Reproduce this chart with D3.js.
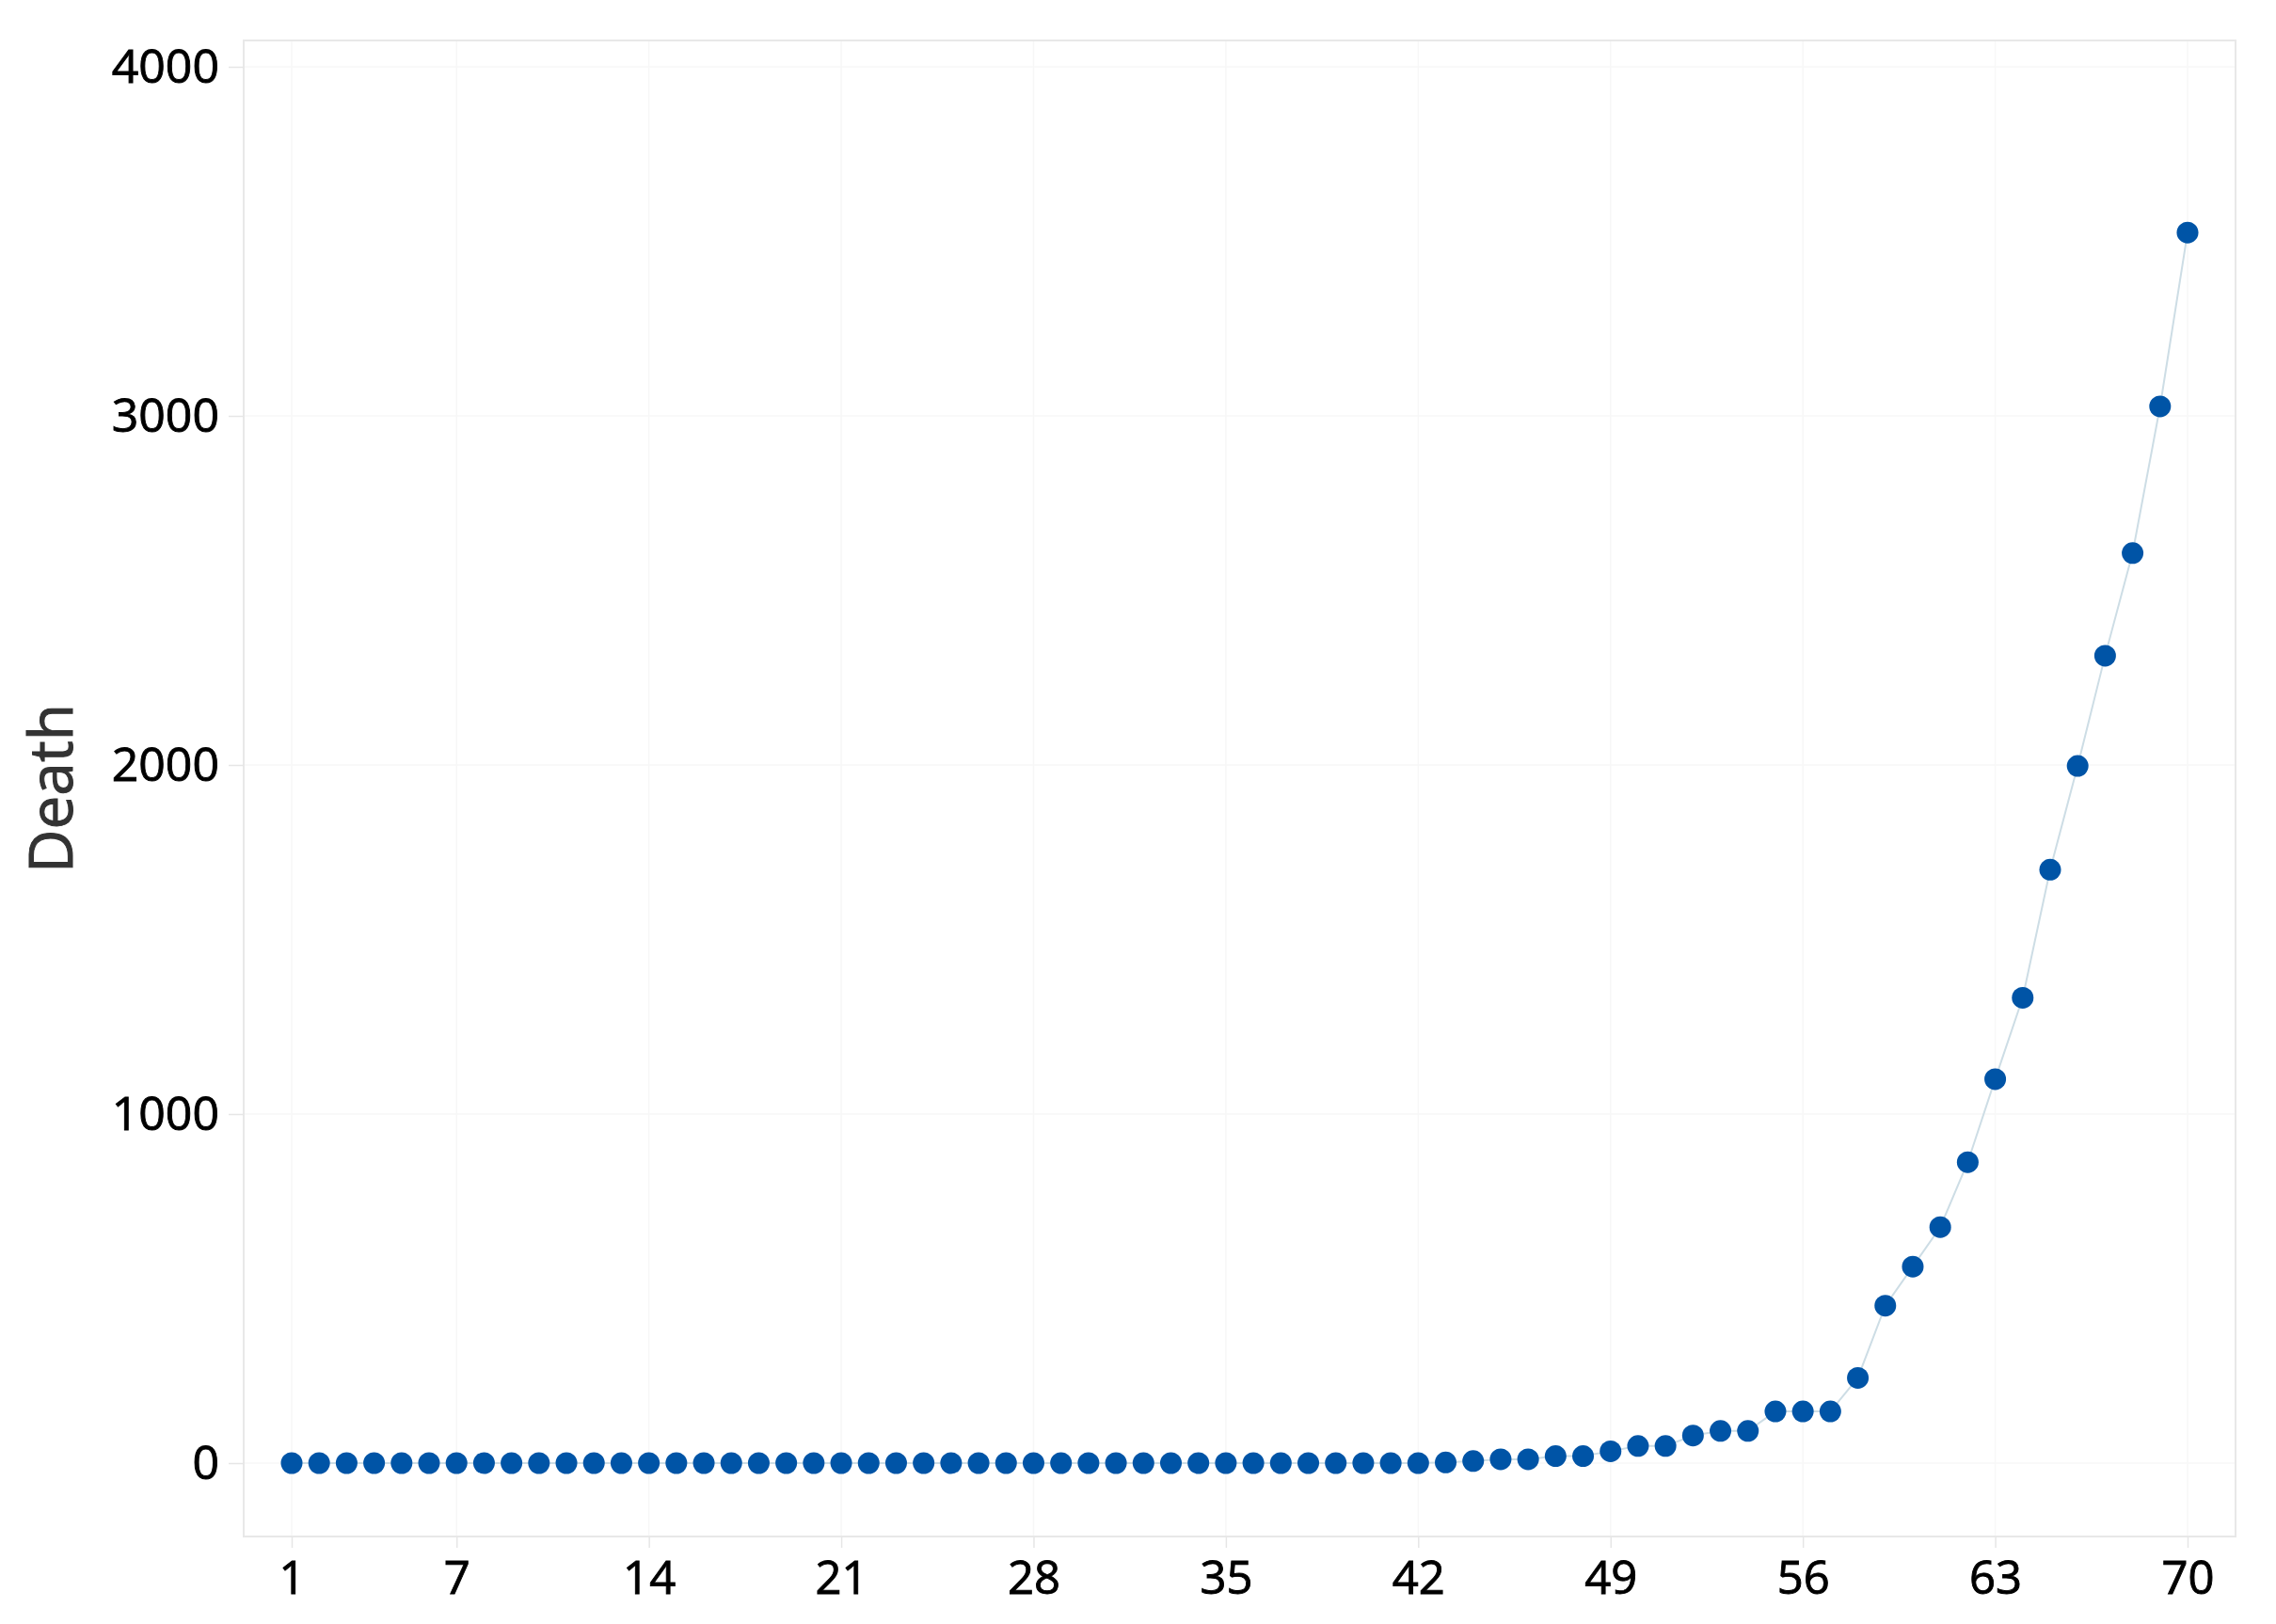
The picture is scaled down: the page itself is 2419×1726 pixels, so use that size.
<!DOCTYPE html>
<html>
<head>
<meta charset="utf-8">
<script src="https://cdn.jsdelivr.net/npm/d3@7"></script>
<style>
  html, body { margin: 0; padding: 0; background: #ffffff; }
  svg { display: block; }
</style>
</head>
<body>
<svg id="chart" width="2419" height="1726"></svg>
<script>
// ---- data ----
const days = d3.range(1, 71);
const deaths = [
  0, 0, 0, 0, 0, 0, 0, 0, 0, 0,
  0, 0, 0, 0, 0, 0, 0, 0, 0, 0,
  0, 0, 0, 0, 0, 0, 0, 0, 0, 0,
  0, 0, 0, 0, 0, 0, 0, 0, 0, 0,
  0, 0, 2, 6, 11, 11, 20, 20, 34, 49,
  49, 79, 92, 92, 148, 148, 148, 244, 451, 563,
  676, 862, 1100, 1333, 1700, 1997, 2313, 2607, 3027, 3525
];
const xTicks = [1, 7, 14, 21, 28, 35, 42, 49, 56, 63, 70];
const yTicks = [0, 1000, 2000, 3000, 4000];
const yTitle = "Death";

// ---- layout ----
const frame = { left: 259, top: 43, right: 2376, bottom: 1633 };
const svg = d3.select("#chart");

const x = d3.scaleLinear().domain([1, 70]).range([310, 2325]);
const y = d3.scaleLinear().domain([0, 4000]).range([1555, 71]);

const font = "'Open Sans', 'Noto Sans', sans-serif";

// gridlines
const grid = svg.append("g");
grid.selectAll("line.gx").data(xTicks).enter().append("line")
  .attr("x1", d => x(d)).attr("x2", d => x(d))
  .attr("y1", frame.top).attr("y2", frame.bottom)
  .attr("stroke", "#f7f7f7").attr("stroke-width", 1.5);
grid.selectAll("line.gy").data(yTicks).enter().append("line")
  .attr("x1", frame.left).attr("x2", frame.right)
  .attr("y1", d => y(d)).attr("y2", d => y(d))
  .attr("stroke", "#f7f7f7").attr("stroke-width", 1.5);

// frame
svg.append("rect")
  .attr("x", frame.left).attr("y", frame.top)
  .attr("width", frame.right - frame.left).attr("height", frame.bottom - frame.top)
  .attr("fill", "none").attr("stroke", "#e8e8e8").attr("stroke-width", 2);

// x axis
const xAxis = d3.axisBottom(x).tickValues(xTicks).tickSize(12).tickPadding(14).tickFormat(d3.format("d"));
const gx = svg.append("g").attr("transform", `translate(0,${frame.bottom})`).call(xAxis);
gx.select(".domain").remove();
gx.selectAll(".tick line").attr("stroke", "#e6e6e6").attr("stroke-width", 1.5);
gx.selectAll(".tick text").attr("font-family", font).attr("font-size", 49).attr("fill", "#000")
  .attr("stroke", "#000").attr("stroke-width", 0.9);

// y axis
const yAxis = d3.axisLeft(y).tickValues(yTicks).tickSize(16).tickPadding(10).tickFormat(d3.format("d"));
const gy = svg.append("g").attr("transform", `translate(${frame.left},0)`).call(yAxis);
gy.select(".domain").remove();
gy.selectAll(".tick line").attr("stroke", "#e6e6e6").attr("stroke-width", 1.5);
gy.selectAll(".tick text").attr("font-family", font).attr("font-size", 50).attr("fill", "#000")
  .attr("stroke", "#000").attr("stroke-width", 0.9);

// y title
svg.append("text")
  .attr("transform", `translate(77,838) rotate(-90)`)
  .attr("text-anchor", "middle")
  .attr("font-family", font).attr("font-size", 64)
  .attr("fill", "#333").attr("stroke", "#333").attr("stroke-width", 1)
  .text(yTitle);

// connecting line
const pts = days.map((d, i) => ({ day: d, v: deaths[i] }));
svg.append("path")
  .datum(pts)
  .attr("d", d3.line().x(d => x(d.day)).y(d => y(d.v)))
  .attr("fill", "none").attr("stroke", "#cddde5").attr("stroke-width", 2);

// points
svg.append("g").selectAll("circle").data(pts).enter().append("circle")
  .attr("cx", d => x(d.day)).attr("cy", d => y(d.v))
  .attr("r", 11.5)
  .attr("fill", "#0054a6");
</script>
</body>
</html>
